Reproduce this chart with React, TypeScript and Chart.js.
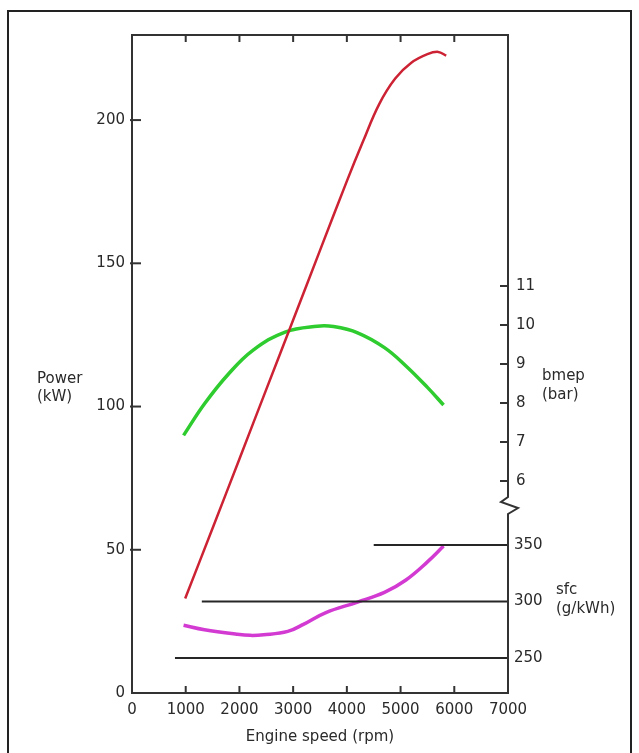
import React, { useEffect, useRef } from 'react';
import { Chart, registerables } from 'chart.js';

Chart.register(...registerables);

// ---- Data ----
const rpmTicks = [0, 1000, 2000, 3000, 4000, 5000, 6000, 7000];
const powerTicks = [0, 50, 100, 150, 200];
const bmepTicks = [6, 7, 8, 9, 10, 11];
const sfcTicks = [250, 300, 350];

const powerRpm = [990, 1500, 2000, 2500, 3000, 3500, 4000, 4300, 4600, 4900, 5200, 5500, 5700, 5850];
const powerKw = [33, 57.5, 81.7, 106, 130.2, 154.5, 178.7, 192.5, 205.5, 214.5, 220, 223, 223.8, 222.5];

const bmepRpm = [960, 1350, 1800, 2250, 2850, 3450, 3750, 4200, 4700, 5100, 5500, 5800];
const bmepBar = [7.17, 7.98, 8.75, 9.35, 9.82, 9.97, 9.96, 9.8, 9.42, 8.95, 8.4, 7.95];

const sfcRpm = [960, 1350, 1950, 2200, 2450, 2900, 3200, 3600, 4200, 4700, 5100, 5500, 5800];
const sfcVal = [279, 275, 271, 270, 270.5, 273.5, 280, 290, 299.5, 308, 319, 335, 349];

const sfcRefValues = [250, 300, 350];
const sfcRefStart = [800, 1300, 4500];
const sfcRefEnd = 7000;

const FONT = 'DejaVu Sans';
const TEXT = '#2a2a2a';
const AXIS = '#333333';

const axisPlugin = {
  id: 'customAxes',
  afterDraw(chart: any) {
    const { ctx, chartArea, scales } = chart;
    const { left, right, top, bottom } = chartArea;
    const line = (x1: number, y1: number, x2: number, y2: number) => {
      ctx.beginPath();
      ctx.moveTo(x1, y1);
      ctx.lineTo(x2, y2);
      ctx.stroke();
    };
    ctx.save();
    ctx.strokeStyle = AXIS;
    ctx.lineWidth = 2;
    ctx.lineCap = 'square';
    line(left, top, left, bottom);
    line(left, bottom, right, bottom);
    line(left, top, right, top);
    const breakY = scales.yB.getPixelForValue(bmepTicks[0]) + 24;
    ctx.beginPath();
    ctx.moveTo(right, top);
    ctx.lineTo(right, breakY - 8);
    ctx.lineTo(right - 7, breakY - 3);
    ctx.lineTo(right + 10, breakY + 3);
    ctx.lineTo(right, breakY + 9);
    ctx.lineTo(right, bottom);
    ctx.stroke();
    ctx.lineCap = 'butt';
    rpmTicks.forEach((v) => {
      if (v === rpmTicks[0] || v === rpmTicks[rpmTicks.length - 1]) return;
      const x = scales.x.getPixelForValue(v);
      line(x, bottom, x, bottom - 7);
      line(x, top, x, top + 7);
    });
    powerTicks.forEach((v) => {
      if (v === 0) return;
      const y = scales.y.getPixelForValue(v);
      line(left - 2, y, left + 9, y);
    });
    ctx.fillStyle = TEXT;
    ctx.font = `15px "${FONT}"`;
    ctx.textAlign = 'left';
    ctx.textBaseline = 'middle';
    bmepTicks.forEach((v) => {
      const y = scales.yB.getPixelForValue(v);
      line(right - 8, y, right, y);
      ctx.fillText(String(v), right + 8, y);
    });
    sfcTicks.forEach((v) => {
      const y = scales.yS.getPixelForValue(v);
      ctx.fillText(String(v), right + 6, y);
    });
    const pY = scales.y.getPixelForValue(100) - 18;
    ctx.fillText('Power', 37, pY - 9);
    ctx.fillText('(kW)', 37, pY + 9);
    const bY = (scales.yB.getPixelForValue(9) + scales.yB.getPixelForValue(8)) / 2;
    ctx.fillText('bmep', right + 34, bY - 7);
    ctx.fillText('(bar)', right + 34, bY + 12);
    const sY = scales.yS.getPixelForValue(300);
    ctx.fillText('sfc', right + 48, sY - 11);
    ctx.fillText('(g/kWh)', right + 48, sY + 8);
    ctx.restore();
  },
};

export default function App() {
  const ref = useRef<HTMLCanvasElement | null>(null);
  useEffect(() => {
    if (!ref.current) return;
    const pts = (xs: number[], ys: number[]) => xs.map((x, i) => ({ x, y: ys[i] }));
    const refSets = sfcRefValues.map((v, i) => ({
      label: `sfc ${v}`,
      data: [
        { x: sfcRefStart[i], y: v },
        { x: sfcRefEnd, y: v },
      ],
      yAxisID: 'yS',
      borderColor: '#262626',
      borderWidth: 2,
      pointRadius: 0,
      tension: 0,
    }));
    const chart = new Chart(ref.current, {
      type: 'line',
      data: {
        datasets: [
          ...refSets,
          {
            label: 'Power',
            data: pts(powerRpm, powerKw),
            yAxisID: 'y',
            borderColor: '#cc2233',
            borderWidth: 2.5,
            pointRadius: 0,
            tension: 0.4,
          },
          {
            label: 'bmep',
            data: pts(bmepRpm, bmepBar),
            yAxisID: 'yB',
            borderColor: '#2ecc2e',
            borderWidth: 3.5,
            pointRadius: 0,
            tension: 0.4,
          },
          {
            label: 'sfc',
            data: pts(sfcRpm, sfcVal),
            yAxisID: 'yS',
            borderColor: '#d23ad2',
            borderWidth: 3.5,
            pointRadius: 0,
            tension: 0.4,
          },
        ] as any,
      },
      options: {
        animation: false,
        responsive: false,
        maintainAspectRatio: false,
        layout: { padding: { left: 0, right: 131, top: 35, bottom: 0 } },
        plugins: { legend: { display: false }, tooltip: { enabled: false } },
        scales: {
          x: {
            type: 'linear',
            min: 0,
            max: 7000,
            afterBuildTicks: (s: any) => {
              s.ticks = rpmTicks.map((v) => ({ value: v }));
            },
            afterFit: (s: any) => {
              s.height = 60;
            },
            grid: { display: false, drawTicks: false },
            border: { display: false },
            ticks: {
              padding: 8,
              maxRotation: 0,
              autoSkip: false,
              color: TEXT,
              font: { family: FONT, size: 15 },
              callback: (v: any) => String(v),
            },
            title: {
              display: true,
              text: 'Engine speed (rpm)',
              color: TEXT,
              font: { family: FONT, size: 15 },
              padding: { top: 0, bottom: 7 },
            },
          },
          y: {
            type: 'linear',
            position: 'left',
            min: 0,
            max: 229.7,
            afterBuildTicks: (s: any) => {
              s.ticks = powerTicks.map((v) => ({ value: v }));
            },
            afterFit: (s: any) => {
              s.width = 132;
            },
            grid: { display: false, drawTicks: false },
            border: { display: false },
            ticks: { padding: 7, color: TEXT, font: { family: FONT, size: 15 }, callback: (v: any) => String(v) },
          },
          yB: { type: 'linear', display: false, min: 0.564, max: 17.436 },
          yS: { type: 'linear', display: false, min: 219, max: 801.3 },
        },
      } as any,
      plugins: [axisPlugin],
    });
    return () => chart.destroy();
  }, []);

  return (
    <div style={{ position: 'fixed', left: 0, top: 0, width: 639, height: 753, background: '#fff', overflow: 'hidden' }}>
      <canvas ref={ref} width={639} height={753} style={{ position: 'absolute', left: 0, top: 0, width: 639, height: 753 }} />
      <div
        style={{
          position: 'absolute',
          left: 7,
          top: 10,
          width: 625,
          height: 760,
          border: '2px solid #222',
          boxSizing: 'border-box',
          pointerEvents: 'none',
        }}
      />
    </div>
  );
}
